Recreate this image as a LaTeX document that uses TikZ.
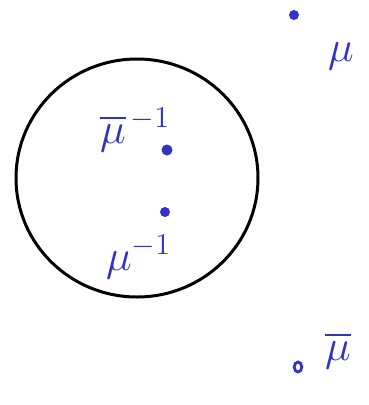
\documentclass[tikz,border=0pt]{standalone}
\usepackage{amsmath}
\usetikzlibrary{shapes.geometric}
\definecolor{ink}{RGB}{50,50,200}
\newcommand{\mybiglab}[1]{\scalebox{2.1}{\huge #1}}
\begin{document}
\begin{tikzpicture}[x=1pt,y=-1pt,
  lab/.style={text=ink,inner sep=0pt},
  pt/.style={fill=ink,draw=none},
  ring/.style={draw=ink,line width=2.8pt}]
\useasboundingbox (0,0) rectangle (368,405);
\fill[white] (0,0) rectangle (368,405);
\node[draw=black,line width=3pt,ellipse,minimum width=242pt,minimum height=238pt,inner sep=0pt] (c) at (137,178) {};
\fill[pt] (294,15) circle (5pt) coordinate (d1);
\fill[pt] (167,150) circle (5.5pt) coordinate (d2);
\fill[pt] (165,212) circle (5pt) coordinate (d3);
\draw[ring] (298,367) ellipse (3.8pt and 5pt) coordinate (d4);
\node[lab,anchor=base west] (m1) at (328,61) {\mybiglab{$\mu$}};
\node[lab,anchor=base west] (m2) at (100,143) {\mybiglab{$\overline{\mu}^{\,-1}$}};
\node[lab,anchor=base west] (m3) at (106,270) {\mybiglab{$\mu^{-1}$}};
\node[lab,anchor=base west] (m4) at (325,360) {\mybiglab{$\overline{\mu}$}};
\end{tikzpicture}
\end{document}
